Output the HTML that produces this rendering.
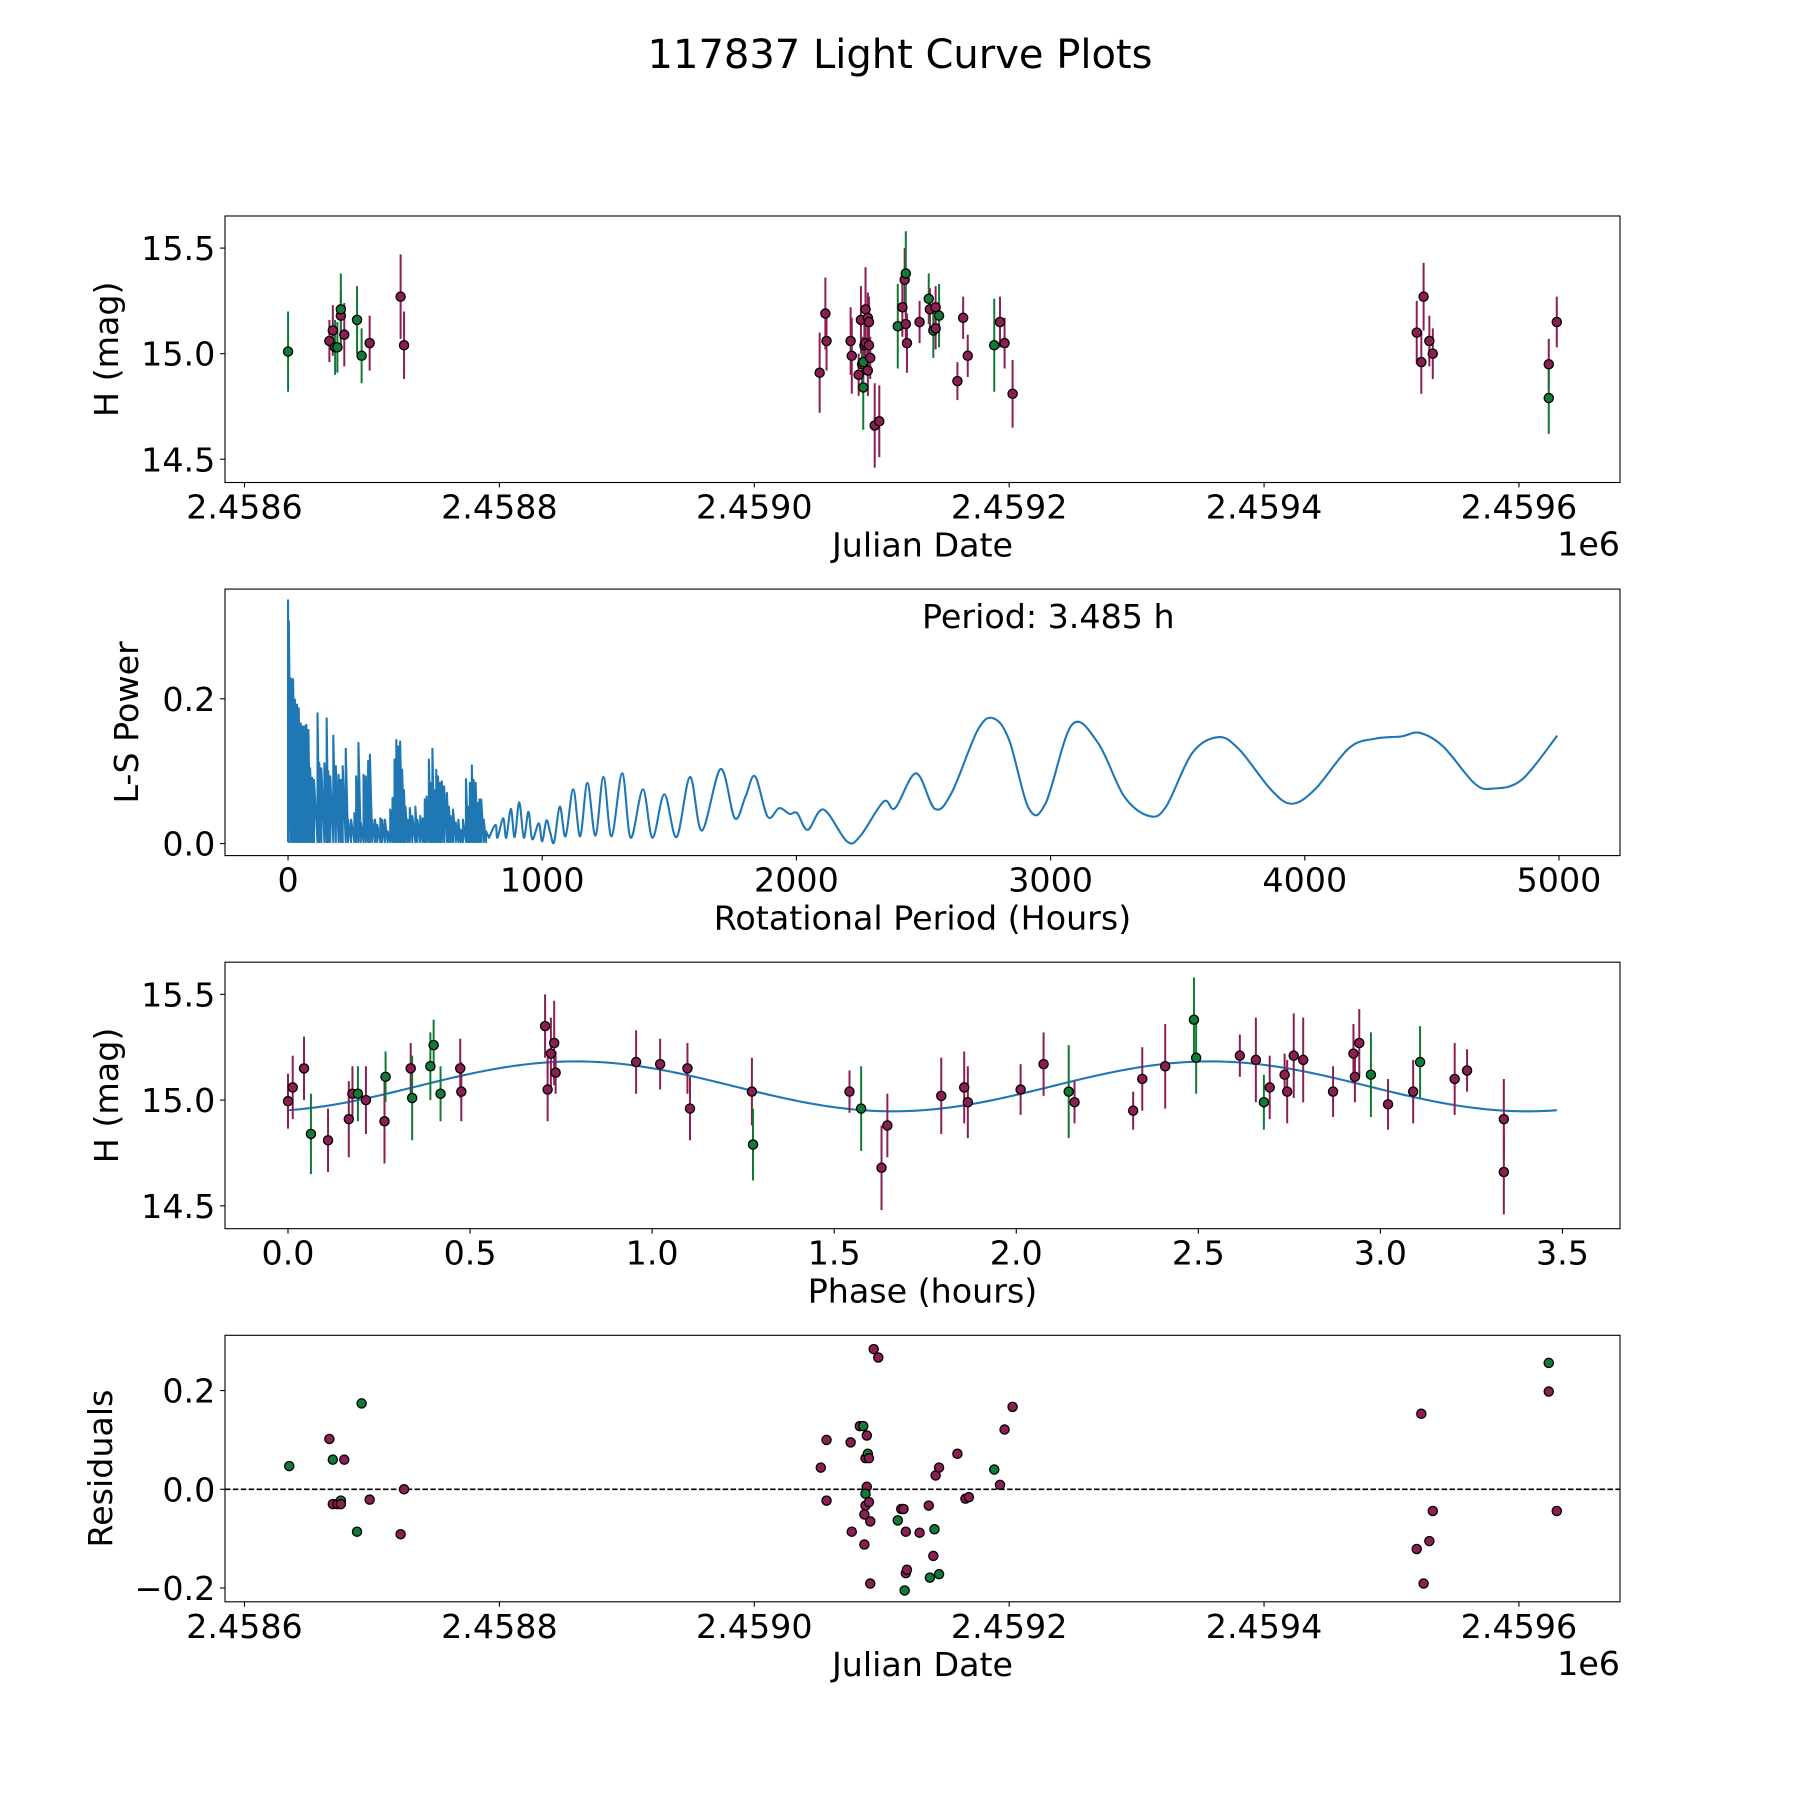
<!DOCTYPE html>
<html><head><meta charset="utf-8">
<style>
html,body{margin:0;padding:0;background:#fff;}
svg{display:block;font-family:"DejaVu Sans","Liberation Sans",sans-serif;}
</style></head>
<body>
<svg id="fig" width="1800" height="1800" viewBox="0 0 1800 1800" xmlns="http://www.w3.org/2000/svg">
<rect x="0" y="0" width="1800" height="1800" fill="#fff"/>
<text x="900" y="68" font-size="40" text-anchor="middle">117837 Light Curve Plots</text>
</svg>
<script>
// ---------- DATA ----------
const JD_BASE = 2458634.2;
// light curve (days since JD_BASE, H mag, error, filter 0=magenta 1=green)
const lcDays = [0,32.4,35.1,36.9,38.7,41.4,41.4,44.1,54.1,57.7,64.0,88.3,91.0,
 417.1,421.6,422.5,441.4,442.3,447.7,449.5,450.4,451.3,451.3,452.2,453.1,453.1,454.9,454.9,455.8,456.8,455.8,460.3,463.9,
 478.4,482.0,483.8,484.7,484.7,485.6,495.5,502.7,503.6,508.1,506.3,508.1,510.8,525.2,529.7,533.3,554.1,558.6,562.2,568.5,
 885.6,889.2,891.0,895.5,898.2,989.2,989.2,995.5];
const lcMag = [15.01,15.06,15.11,15.03,15.03,15.18,15.21,15.09,15.16,14.99,15.05,15.27,15.04,
 14.91,15.19,15.06,15.06,14.99,14.90,15.16,14.95,14.84,14.96,15.04,15.05,15.21,15.17,14.92,15.15,14.98,15.04,14.66,14.68,
 15.13,15.22,15.35,15.38,15.14,15.05,15.15,15.26,15.21,15.22,15.11,15.12,15.18,14.87,15.17,14.99,15.04,15.15,15.05,14.81,
 15.10,14.96,15.27,15.06,15.00,14.95,14.79,15.15];
const lcErr = [0.19,0.10,0.12,0.13,0.12,0.12,0.17,0.15,0.16,0.13,0.13,0.20,0.16,
 0.19,0.17,0.14,0.16,0.18,0.10,0.16,0.13,0.20,0.12,0.14,0.10,0.20,0.12,0.12,0.12,0.10,0.10,0.20,0.17,
 0.20,0.14,0.15,0.20,0.10,0.14,0.10,0.12,0.10,0.10,0.13,0.10,0.15,0.09,0.10,0.10,0.22,0.12,0.12,0.16,
 0.15,0.15,0.16,0.12,0.12,0.12,0.17,0.12];
const lcBand = [1,0,0,1,1,0,1,0,1,1,0,0,0,
 0,0,0,0,0,0,0,0,1,1,0,0,0,0,0,0,0,0,0,0,
 1,0,0,1,0,0,0,1,0,0,1,0,1,0,0,0,1,0,0,0,
 0,0,0,0,0,0,1,0];

// periodogram: noisy region spikes (period h, peak power)
const spikePeriod = [0,3,12,20,27,35,42,50,57,65,72,80,87,95,102,116,123,131,143,152,158,166,178,188,199,208,215,227,236,248,261,268,277,286,297,306,315,322,331,342,351,363,370,381,392,402,411,419,426,434,441,449,456,462,471,479,489,501,509,520,530,538,545,554,562,568,575,583,590,598,605,614,625,633,640,649,660,670,679,688,700,708,715,723,730,738,745,753,760,770,779];
const spikePower = [0.336,0.307,0.228,0.227,0.199,0.192,0.187,0.166,0.162,0.162,0.164,0.157,0.104,0.091,0.088,0.180,0.111,0.104,0.111,0.173,0.100,0.093,0.149,0.107,0.095,0.088,0.107,0.131,0.033,0.033,0.042,0.093,0.139,0.029,0.095,0.093,0.114,0.123,0.033,0.033,0.026,0.035,0.033,0.033,0.017,0.047,0.063,0.116,0.143,0.134,0.141,0.102,0.074,0.051,0.033,0.049,0.038,0.051,0.033,0.038,0.035,0.061,0.065,0.116,0.084,0.131,0.074,0.102,0.093,0.084,0.086,0.079,0.070,0.051,0.038,0.047,0.029,0.033,0.019,0.033,0.089,0.051,0.084,0.108,0.088,0.084,0.056,0.061,0.061,0.033,0.017];
const spikeFloor = 0.002;
// smooth region (period h, power)
const smoothPeriod = [790.7,816.3,823.8,846.4,858.4,876.5,891.6,909.6,927.7,945.8,960.8,986.4,999.7,1016.6,1031.6,1046.7,1069.3,1091.9,1121.9,1149.1,1177.7,1209.3,1240.9,1272.6,1314.7,1347.9,1396.1,1433.7,1480.4,1528.6,1581.3,1628.3,1701.8,1757.5,1799.7,1837.3,1887.0,1932.2,1972.9,2003.0,2044.7,2106.4,2199,2250.4,2343,2388.3,2470.6,2544.6,2610.5,2713.4,2775.1,2836.8,2915,2980.8,3083.7,3186.6,3289.5,3388.2,3454.1,3556.9,3659.8,3742.1,3865.6,3947.9,4040.4,4174.2,4277.1,4379.9,4451.9,4544.5,4668,4740,4853.1,4993];
const smoothPower = [0.008,0.026,0.008,0.035,0.008,0.048,0.009,0.057,0.008,0.044,0.006,0.028,0.003,0.032,0.015,0.002,0.051,0.010,0.075,0.010,0.084,0.011,0.092,0.010,0.097,0.008,0.075,0.008,0.068,0.009,0.092,0.018,0.103,0.035,0.065,0.093,0.037,0.049,0.041,0.042,0.019,0.047,0.003,0.010,0.058,0.049,0.097,0.048,0.070,0.157,0.173,0.143,0.048,0.056,0.164,0.139,0.065,0.038,0.051,0.125,0.147,0.130,0.075,0.055,0.075,0.132,0.145,0.148,0.153,0.134,0.083,0.076,0.088,0.149];
const periodLabel = "Period: 3.485 h";

// phased curve
const phHours = [0.000,0.013,0.044,0.063,0.110,0.167,0.177,0.192,0.214,0.265,0.268,0.337,0.341,0.391,0.400,0.419,0.473,0.476,0.706,0.713,0.722,0.731,0.735,0.956,1.022,1.097,1.104,1.274,1.277,1.542,1.574,1.630,1.646,1.794,1.857,1.867,2.012,2.075,2.144,2.160,2.321,2.346,2.409,2.488,2.494,2.614,2.658,2.680,2.696,2.737,2.744,2.762,2.788,2.870,2.926,2.930,2.942,2.974,3.021,3.090,3.109,3.204,3.238,3.339,3.339];
const phMag = [14.995,15.06,15.15,14.84,14.81,14.91,15.03,15.03,15.00,14.90,15.11,15.15,15.01,15.16,15.26,15.03,15.15,15.04,15.35,15.05,15.22,15.27,15.13,15.18,15.17,15.15,14.96,15.04,14.79,15.04,14.96,14.68,14.88,15.02,15.06,14.99,15.05,15.17,15.04,14.99,14.95,15.10,15.16,15.38,15.20,15.21,15.19,14.99,15.06,15.12,15.04,15.21,15.19,15.04,15.22,15.11,15.27,15.12,14.98,15.04,15.18,15.10,15.14,14.91,14.66];
const phErr = [0.13,0.15,0.15,0.19,0.15,0.18,0.13,0.13,0.16,0.20,0.12,0.12,0.20,0.16,0.12,0.13,0.14,0.14,0.15,0.15,0.17,0.20,0.10,0.15,0.12,0.12,0.15,0.16,0.17,0.10,0.20,0.20,0.15,0.18,0.17,0.17,0.12,0.15,0.22,0.10,0.09,0.15,0.20,0.20,0.17,0.10,0.20,0.13,0.15,0.10,0.15,0.20,0.20,0.12,0.14,0.12,0.16,0.20,0.12,0.15,0.17,0.17,0.10,0.19,0.20];
const phBand = [0,0,0,1,0,0,0,1,0,0,1,0,1,1,1,1,0,0,0,0,0,0,0,0,0,0,0,0,1,0,1,0,0,0,0,0,0,0,1,0,0,0,0,1,1,0,0,1,0,0,0,0,0,0,0,0,0,1,0,0,1,0,0,0,0];
// fit model parameters: mean, amplitude, peak phase, fit period, span
const fitMean = [15.065];
const fitAmp = [0.118];
const fitPeak = [0.79];
const fitPeriod = [1.7425];
const fitSpan = [0, 3.485];

// residuals
const resDays = [0.9,32.4,35.1,44.1,35.1,38.7,41.4,41.4,54.1,57.7,64.0,88.3,91.0,
 418.0,422.5,422.5,441.4,442.3,448.6,451.3,452.2,453.1,454.1,454.9,455.8,454.1,453.1,453.1,455.8,456.8,452.2,456.8,459.5,463.1,
 478.4,481.1,482.9,484.7,484.7,485.6,483.8,495.5,502.7,503.6,506.3,507.2,508.1,510.8,510.8,525.2,531.5,534.2,554.1,558.6,562.2,568.5,
 885.6,889.2,891.0,895.5,898.2,989.2,989.2,995.5];
const resVal = [0.047,0.102,0.060,0.060,-0.030,-0.030,-0.023,-0.030,-0.086,0.174,-0.021,-0.091,0.0,
 0.044,0.100,-0.023,0.095,-0.086,0.128,0.128,-0.112,0.063,0.109,0.072,0.063,0.005,-0.009,-0.033,-0.026,-0.065,-0.051,-0.191,0.284,0.267,
 -0.063,-0.040,-0.040,-0.086,-0.170,-0.163,-0.205,-0.088,-0.033,-0.179,-0.135,-0.081,0.028,0.044,-0.172,0.072,-0.019,-0.016,0.040,0.009,0.121,0.167,
 -0.121,0.153,-0.191,-0.105,-0.044,0.256,0.198,-0.044];
const resBand = [1,0,1,0,0,0,1,0,1,1,0,0,0,
 0,0,0,0,0,0,1,0,0,0,1,0,0,1,0,0,0,0,0,0,0,
 1,0,0,0,0,0,1,0,0,1,0,1,0,0,1,0,0,0,1,0,0,0,
 0,0,0,0,0,1,0,0];

const jdTicks = [2458600,2458800,2459000,2459200,2459400,2459600];
const jdTickLabels = ["2.4586","2.4588","2.4590","2.4592","2.4594","2.4596"];
const magTicks = [14.5,15.0,15.5];
const magTickLabels = ["14.5","15.0","15.5"];
const perTicks = [0,1000,2000,3000,4000,5000];
const powTicks = [0.0,0.2];
const powTickLabels = ["0.0","0.2"];
const phTicks = [0,0.5,1,1.5,2,2.5,3,3.5];
const phTickLabels = ["0.0","0.5","1.0","1.5","2.0","2.5","3.0","3.5"];
const resTicks = [-0.2,0.0,0.2];
const resTickLabels = ["\u22120.2","0.0","0.2"];

// ---------- RENDER ----------
const NS = "http://www.w3.org/2000/svg";
const svg = document.getElementById('fig');
const MAG = "#8b1e53", GRN = "#117a35", BLUE = "#1f77b4";
const FS = 33.3;
function mk(tag, attrs, parent){
  const e = document.createElementNS(NS, tag);
  for (const k in attrs) e.setAttribute(k, attrs[k]);
  (parent||svg).appendChild(e);
  return e;
}
const L = 225, R = 1620, H = 266.5;
const tops = [216, 589.1, 962.2, 1335.3];
function lin(d0,d1,p0,p1){ return v => p0 + (v-d0)*(p1-p0)/(d1-d0); }

function axes(i, name, xdom, ydom, xt, xtl, yt, ytl, xlabel, ylabel, ylabX, offsetText){
  const top = tops[i], bot = top + H;
  const g = mk('g', {});
  
  
  const sx = lin(xdom[0], xdom[1], L, R), sy = lin(ydom[0], ydom[1], bot, top);
  const frame = mk('rect', {x:L, y:top, width:R-L, height:H, fill:'none', stroke:'#000', 'stroke-width':1.1}, g);
  
  
  xt.forEach((v, k) => {
    const x = sx(v);
    const t = mk('line', {x1:x, x2:x, y1:bot, y2:bot+4.9, stroke:'#000', 'stroke-width':1.1}, g);
    
    
    const lb = mk('text', {x:x, y:bot+36, 'font-size':FS, 'text-anchor':'middle'}, g);
    lb.textContent = xtl[k];
    
    
  });
  yt.forEach((v, k) => {
    const y = sy(v);
    const t = mk('line', {x1:L-4.9, x2:L, y1:y, y2:y, stroke:'#000', 'stroke-width':1.1}, g);
    
    
    const lb = mk('text', {x:L-9.7, y:y+12, 'font-size':FS, 'text-anchor':'end'}, g);
    lb.textContent = ytl[k];
    
    
  });
  const xl = mk('text', {x:(L+R)/2, y:bot+74, 'font-size':FS, 'text-anchor':'middle'}, g);
  xl.textContent = xlabel;
  
  
  const cy = (top+bot)/2;
  const yl = mk('text', {x:ylabX, y:cy, 'font-size':FS, 'text-anchor':'middle', transform:`rotate(-90 ${ylabX} ${cy})`}, g);
  yl.textContent = ylabel;
  
  
  if (offsetText){
    const ot = mk('text', {x:R, y:bot+73, 'font-size':FS, 'text-anchor':'end'}, g);
    ot.textContent = offsetText;
    
    
  }
  const clipId = 'clip'+i;
  const cp = mk('clipPath', {id:clipId}, g);
  mk('rect', {x:L, y:top, width:R-L, height:H}, cp);
  const plot = mk('g', {'clip-path':`url(#${clipId})`}, g);
  
  
  return {sx, sy, plot, g};
}

function errPoints(ax, xs, ys, es, bands, nm){
  xs.forEach((xv, k) => {
    const x = ax.sx(xv), col = bands[k] ? GRN : MAG;
    const ln = mk('line', {x1:x, x2:x, y1:ax.sy(ys[k]-es[k]), y2:ax.sy(ys[k]+es[k]), stroke:col, 'stroke-width':2}, ax.plot);
    
    
  });
  xs.forEach((xv, k) => {
    const col = bands[k] ? GRN : MAG;
    const c = mk('circle', {cx:ax.sx(xv), cy:ax.sy(ys[k]), r:4.6, fill:col, stroke:'#000', 'stroke-width':1.3}, ax.plot);
    
    
  });
}

const jdDom = [2458584.7, 2459679.3];
const jdTickOff = jdTicks.map(v => v - JD_BASE);
const jdDomOff = jdDom.map(v => v - JD_BASE);

// Panel 1: light curve
const ax1 = axes(0, 'light-curve-panel', jdDomOff, [14.39, 15.652], jdTickOff, jdTickLabels, magTicks, magTickLabels, 'Julian Date', 'H (mag)', 118, '1e6');
errPoints(ax1, lcDays, lcMag, lcErr, lcBand, 'lightcurve');

// Panel 2: periodogram
const ax2 = axes(1, 'periodogram-panel', [-248, 5240], [-0.0166, 0.3515], perTicks, perTicks.map(String), powTicks, powTickLabels, 'Rotational Period (Hours)', 'L-S Power', 138, null);
let pts = [];
spikePeriod.forEach((p, k) => {
  pts.push([ax2.sx(p), ax2.sy(spikeFloor)]);
  pts.push([ax2.sx(p), ax2.sy(spikePower[k])]);
});
let d = 'M' + pts.map(q => q[0].toFixed(2)+','+q[1].toFixed(2)).join(' L');
const sp = smoothPeriod.map((p,k)=>[ax2.sx(p), ax2.sy(smoothPower[k])]);
d += ' L' + sp[0][0].toFixed(2) + ',' + sp[0][1].toFixed(2);
for (let k = 0; k < sp.length-1; k++){
  const p0 = sp[Math.max(0,k-1)], p1 = sp[k], p2 = sp[k+1], p3 = sp[Math.min(sp.length-1,k+2)];
  const c1 = [p1[0]+(p2[0]-p0[0])/6, p1[1]+(p2[1]-p0[1])/6];
  const c2 = [p2[0]-(p3[0]-p1[0])/6, p2[1]-(p3[1]-p1[1])/6];
  d += ` C${c1[0].toFixed(2)},${c1[1].toFixed(2)} ${c2[0].toFixed(2)},${c2[1].toFixed(2)} ${p2[0].toFixed(2)},${p2[1].toFixed(2)}`;
}
const pg = mk('path', {d:d, fill:'none', stroke:BLUE, 'stroke-width':2.1, 'stroke-linejoin':'round'}, ax2.plot);


const ptxt = mk('text', {x:922, y:628, 'font-size':FS}, ax2.g);
ptxt.textContent = periodLabel;



// Panel 3: phased light curve
const ax3 = axes(2, 'phase-panel', [-0.173, 3.658], [14.392, 15.652], phTicks, phTickLabels, magTicks, magTickLabels, 'Phase (hours)', 'H (mag)', 118, null);
let fd = '';
for (let k = 0; k <= 400; k++){
  const p = fitSpan[0] + (fitSpan[1]-fitSpan[0])*k/400;
  const m = fitMean[0] + fitAmp[0]*Math.cos(2*Math.PI*(p - fitPeak[0])/fitPeriod[0]);
  fd += (k ? ' L' : 'M') + ax3.sx(p).toFixed(2) + ',' + ax3.sy(m).toFixed(2);
}
const fit = mk('path', {d:fd, fill:'none', stroke:BLUE, 'stroke-width':2.1}, ax3.plot);


errPoints(ax3, phHours, phMag, phErr, phBand, 'phase');

// Panel 4: residuals
const ax4 = axes(3, 'residuals-panel', jdDomOff, [-0.228, 0.312], jdTickOff, jdTickLabels, resTicks, resTickLabels, 'Julian Date', 'Residuals', 112, '1e6');
const zl = mk('line', {x1:L, x2:R, y1:ax4.sy(0), y2:ax4.sy(0), stroke:'#000', 'stroke-width':1.6, 'stroke-dasharray':'5.5,2.4'}, ax4.plot);


resDays.forEach((xv, k) => {
  const c = mk('circle', {cx:ax4.sx(xv), cy:ax4.sy(resVal[k]), r:4.6, fill:resBand[k]?GRN:MAG, stroke:'#000', 'stroke-width':1.3}, ax4.plot);
  
  
});
</script>
</body></html>
